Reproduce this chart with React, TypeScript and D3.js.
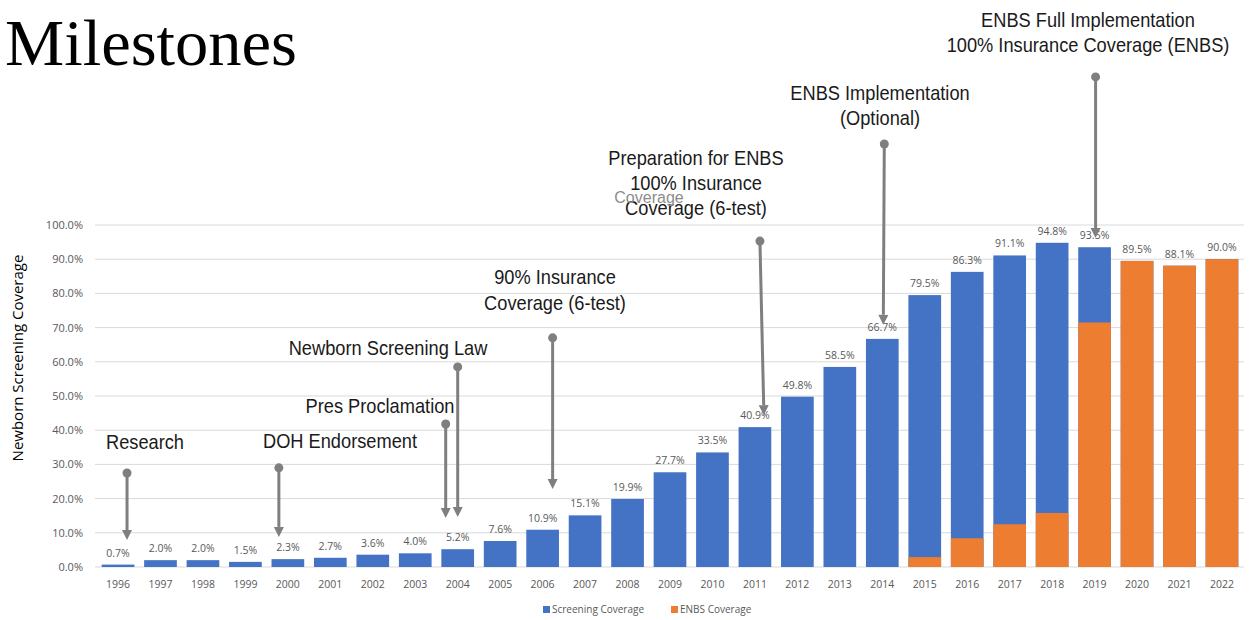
import React from "react";
import * as d3 from "d3";

const years = [
  "1996", "1997", "1998", "1999", "2000", "2001", "2002", "2003", "2004", "2005",
  "2006", "2007", "2008", "2009", "2010", "2011", "2012", "2013", "2014", "2015",
  "2016", "2017", "2018", "2019", "2020", "2021", "2022",
];
// total newborn screening coverage (%) – label values
const screeningCoverage = [
  0.7, 2.0, 2.0, 1.5, 2.3, 2.7, 3.6, 4.0, 5.2, 7.6,
  10.9, 15.1, 19.9, 27.7, 33.5, 40.9, 49.8, 58.5, 66.7, 79.5,
  86.3, 91.1, 94.8, 93.5, 89.5, 88.1, 90.0,
];
// ENBS coverage (%) part of the bar
const enbsCoverage = [
  0, 0, 0, 0, 0, 0, 0, 0, 0, 0,
  0, 0, 0, 0, 0, 0, 0, 0, 0, 2.9,
  8.4, 12.5, 15.8, 71.5, 89.5, 88.1, 90.0,
];
const yTicks = [0, 10, 20, 30, 40, 50, 60, 70, 80, 90, 100];
const seriesNames = ["Screening Coverage", "ENBS Coverage"];

// milestone annotations: text lines, year, arrow start value, arrow end value
const milestoneText = [
  ["Research"],
  ["DOH  Endorsement"],
  ["Pres Proclamation"],
  ["Newborn Screening Law"],
  ["90% Insurance", "Coverage (6-test)"],
  ["Preparation for ENBS", "100% Insurance", "Coverage (6-test)"],
  ["ENBS  Implementation", "(Optional)"],
  ["ENBS  Full Implementation", "100% Insurance Coverage (ENBS)"],
];
const milestoneYear = ["1996", "2000", "2004", "2004", "2006", "2011", "2014", "2019"];
const milestoneFrom = [27.5, 29.0, 41.8, 58.5, 67.0, 95.3, 123.7, 143.3];
const milestoneTo = [7.9, 8.8, 14.3, 14.6, 22.8, 44.4, 70.8, 96.2];

// layout of annotations (pixel offsets)
const arrowDx = [9, -9, -12, 0, 10, 5, 2, 1];
const arrowDxEnd = [9, -9, -12, 0, 10, 9, 1, 1];
const textCx = [145, 340, 380, 388, 555, 696, 880, 1088];
const textBaseline = [449, 448, 413, 355, 284, 165, 100, 27];
const textLineH = [26, 26, 26, 26, 26, 25, 25, 25];

const BLUE = "#4472c4";
const ORANGE = "#ed7d31";
const GREY = "#7f7f7f";
const LABEL = "#595959";

export default function App() {
  const width = 1253;
  const height = 620;
  const x = d3.scaleBand<string>().domain(years).range([96.8, 1243.2]).paddingInner(0.23).paddingOuter(0.115);
  const y = d3.scaleLinear().domain([0, 100]).range([567, 225]);
  const bw = x.bandwidth();
  const fmt = (v: number) => d3.format(".1f")(v) + "%";
  const smallFont = "'Open Sans', 'Liberation Sans', sans-serif";
  const annFont = "'Liberation Sans', Arial, sans-serif";

  return (
    <svg width={width} height={height} style={{ position: "absolute", left: 0, top: 0, background: "#fff" }}>
      <rect width={width} height={height} fill="#fff" />
      {/* title */}
      <text x={5} y={65} fontFamily="'Liberation Serif', 'Times New Roman', serif" fontSize={65} fill="#000" textLength={292} lengthAdjust="spacingAndGlyphs">
        Milestones
      </text>

      {/* gridlines */}
      {yTicks.map((t) => (
        <line key={t} x1={95} x2={1244} y1={y(t)} y2={y(t)} stroke="#d9d9d9" strokeWidth={1} />
      ))}
      {/* y tick labels */}
      {yTicks.map((t) => (
        <text key={"l" + t} x={83} y={y(t) + 4} textAnchor="end" fontFamily={smallFont} fontSize={11} fill={LABEL}>
          {fmt(t)}
        </text>
      ))}
      {/* y axis title */}
      <text transform={`translate(23,358) rotate(-90)`} textAnchor="middle" fontFamily={smallFont} fontSize={15} fill="#000">
        Newborn Screening Coverage
      </text>

      {/* bars */}
      {years.map((yr, i) => (
        <g key={yr}>
          <rect x={x(yr)} y={y(screeningCoverage[i])} width={bw} height={y(0) - y(screeningCoverage[i])} fill={BLUE} />
          {enbsCoverage[i] > 0 && (
            <rect x={x(yr)} y={y(enbsCoverage[i])} width={bw} height={y(0) - y(enbsCoverage[i])} fill={ORANGE} />
          )}
          <text x={(x(yr) as number) + bw / 2} y={y(screeningCoverage[i]) - 8} textAnchor="middle" fontFamily={smallFont} fontSize={10.5} fill={LABEL}>
            {fmt(screeningCoverage[i])}
          </text>
          <text x={(x(yr) as number) + bw / 2} y={588} textAnchor="middle" fontFamily={smallFont} fontSize={10.5} fill={LABEL}>
            {yr}
          </text>
        </g>
      ))}

      {/* annotations */}
      {milestoneText.map((lines, i) => {
        const cx = (x(milestoneYear[i]) as number) + bw / 2;
        const x0 = cx + arrowDx[i];
        const y0 = y(milestoneFrom[i]);
        const x1 = cx + arrowDxEnd[i];
        const y1 = y(milestoneTo[i]);
        const len = Math.hypot(x1 - x0, y1 - y0);
        const ux = (x1 - x0) / len;
        const uy = (y1 - y0) / len;
        const L = 10;
        const hw = 5;
        const bx = x1 - ux * L;
        const by = y1 - uy * L;
        const pts = [
          [x1, y1],
          [bx - uy * hw, by + ux * hw],
          [bx + uy * hw, by - ux * hw],
        ];
        return (
          <g key={"a" + i}>
            {lines.map((ln, j) => (
              <text
                key={j}
                transform={`translate(${textCx[i]},${textBaseline[i] + j * textLineH[i]}) scale(0.89,1)`}
                textAnchor="middle"
                fontFamily={annFont}
                fontSize={20.5}
                fill="#1a1a1a"
              >
                {ln}
              </text>
            ))}
            <line x1={x0} y1={y0} x2={bx} y2={by} stroke={GREY} strokeWidth={3} />
            <circle cx={x0} cy={y0} r={4.5} fill={GREY} />
            <polygon points={pts.map((p) => p.join(",")).join(" ")} fill={GREY} />
          </g>
        );
      })}
      {/* faint ghost label */}
      <text x={649} y={203} textAnchor="middle" fontFamily={annFont} fontSize={16} fill="#8c8c8c">
        Coverage
      </text>

      {/* legend */}
      <rect x={543} y={606} width={7} height={7} fill={BLUE} />
      <text x={552} y={613} fontFamily={smallFont} fontSize={10} fill={LABEL}>
        {seriesNames[0]}
      </text>
      <rect x={671} y={606} width={7} height={7} fill={ORANGE} />
      <text x={680} y={613} fontFamily={smallFont} fontSize={10} fill={LABEL}>
        {seriesNames[1]}
      </text>
    </svg>
  );
}
